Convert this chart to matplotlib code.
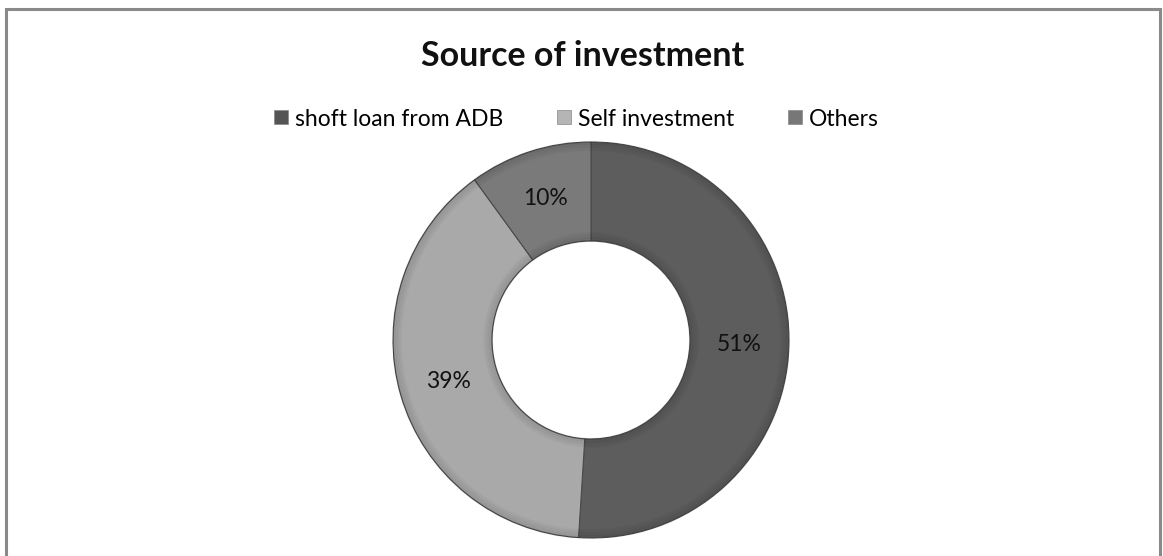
import matplotlib
matplotlib.use("Agg")
import matplotlib.pyplot as plt
from matplotlib.patches import Rectangle, Circle
from matplotlib.lines import Line2D

# Data
categories = ["shoft loan from ADB", "Self investment", "Others"]
shares = [51, 39, 10]
colors = ["#5d5d5d", "#a9a9a9", "#7a7a7a"]
legend_colors = ["#555555", "#b5b5b5", "#777777"]
title = "Source of investment"

plt.rcParams["font.family"] = ["Lato", "DejaVu Sans"]

W, H = 1163, 556
fig = plt.figure(figsize=(W / 100, H / 100), dpi=100)
fig.patch.set_facecolor("white")

# Chart frame (bottom edge runs off the image)
frame = Rectangle((6 / W, -0.05), (1160 - 6) / W, (H - 9) / H + 0.05,
                  transform=fig.transFigure, fill=False,
                  edgecolor="#8a8a8a", linewidth=2.2)
fig.patches.append(frame)

# Donut axes: centre (591, 340) px, radius 198 px
cx, cy, r = 591, 340, 198
ax = fig.add_axes([(cx - r) / W, (H - cy - r) / H, 2 * r / W, 2 * r / H])

wedges, texts, autotexts = ax.pie(
    shares, colors=colors, startangle=90, counterclock=False, radius=1.0,
    autopct=lambda p: f"{p:.0f}%", pctdistance=0.75,
    wedgeprops=dict(width=0.5, edgecolor="#4a4a4a", linewidth=0.8),
    textprops=dict(fontsize=16.5, color="#111111"))

# Soft bevel: darker rim on the outside, shadow on the inner edge
for i in range(6):
    ax.add_patch(Circle((0, 0), 1.0 - i * 0.008, fill=False,
                        edgecolor="black", alpha=0.10 - i * 0.015,
                        linewidth=1.5, zorder=3))
    ax.add_patch(Circle((0, 0), 0.5 + i * 0.008, fill=False,
                        edgecolor="black", alpha=0.10 - i * 0.015,
                        linewidth=1.5, zorder=3))

ax.set_xlim(-1, 1)
ax.set_ylim(-1, 1)
ax.set_aspect("equal")
ax.axis("off")

fig.text(583 / W, 1 - 56 / H, title, ha="center", va="center",
         fontsize=24.5, fontweight="bold", color="#111111")

handles = [Line2D([], [], marker="s", linestyle="none", markersize=10,
                  markerfacecolor=c, markeredgecolor="#888888",
                  markeredgewidth=0.5) for c in legend_colors]
fig.legend(handles, categories, loc="center", bbox_to_anchor=(576 / W, 1 - 119 / H),
           ncol=3, frameon=False, fontsize=16.5, handlelength=0.7,
           handletextpad=0.25, columnspacing=2.3)

fig.savefig("out.png", dpi=100, facecolor="white")
